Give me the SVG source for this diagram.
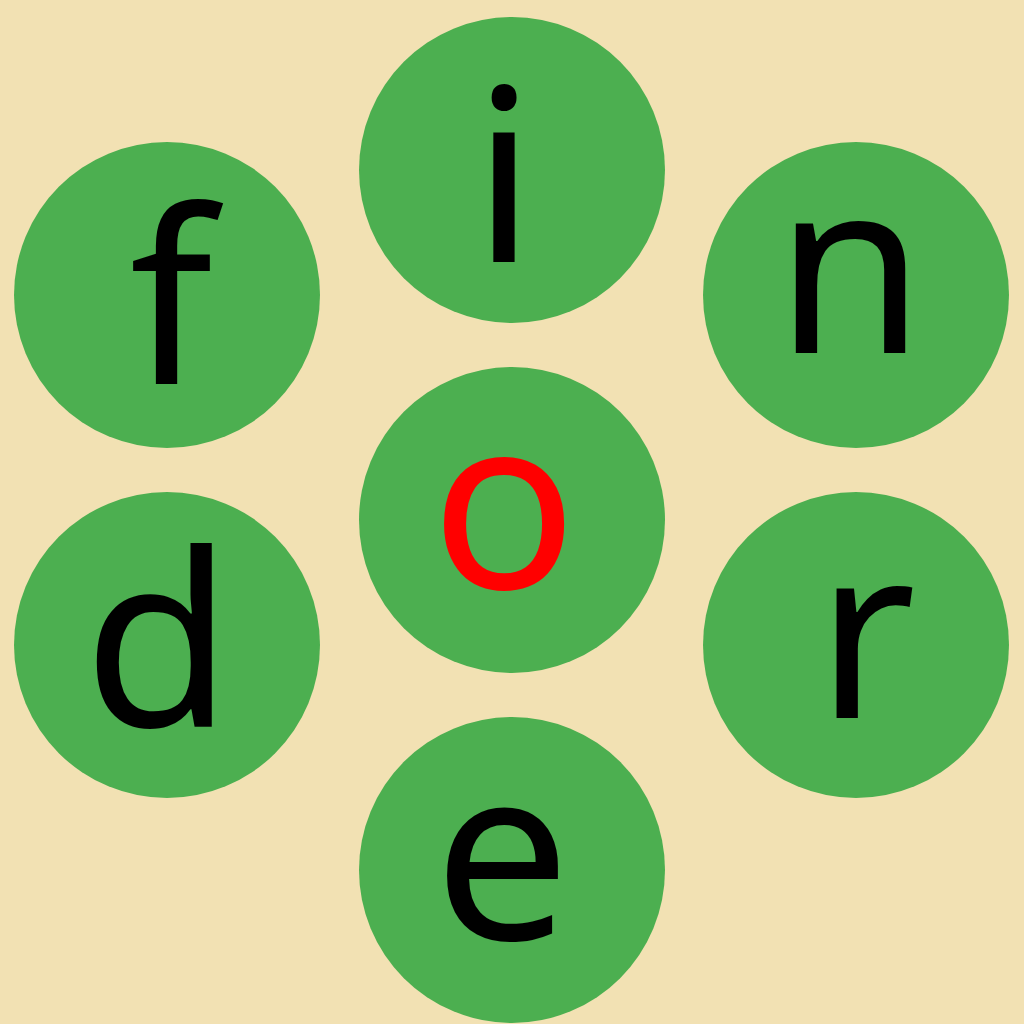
<svg xmlns="http://www.w3.org/2000/svg" width="1024" height="1024" viewBox="0 0 1024 1024">
<style>
.c{fill:#4CAF50}
.t{font-family:"Noto Sans","Open Sans",sans-serif;font-size:242px;text-anchor:middle;fill:#000}
.ctr{fill:#FF0000}
</style>
<rect width="1024" height="1024" fill="#F2E1B3"/>
<g id="node-i"><circle class="c" cx="512" cy="170" r="153"/><text class="t" x="504" y="262">i</text></g>
<g id="node-f"><circle class="c" cx="167" cy="295" r="153"/><text class="t" x="171" y="384">f</text></g>
<g id="node-n"><circle class="c" cx="856" cy="295" r="153"/><text class="t" x="850" y="353">n</text></g>
<g id="node-o"><circle class="c" cx="512" cy="520" r="153"/><text class="t ctr" x="504" y="589">o</text></g>
<g id="node-d"><circle class="c" cx="167" cy="645" r="153"/><text class="t" x="158" y="727">d</text></g>
<g id="node-r"><circle class="c" cx="856" cy="645" r="153"/><text class="t" x="866" y="718">r</text></g>
<g id="node-e"><circle class="c" cx="512" cy="870" r="153"/><text class="t" x="502" y="940">e</text></g>
<g id="connectors"></g>
</svg>
